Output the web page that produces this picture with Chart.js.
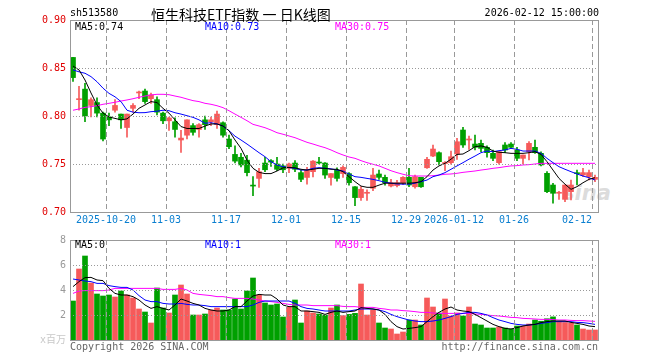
<!DOCTYPE html>
<html>
<head>
<meta charset="utf-8">
<script src="https://cdn.jsdelivr.net/npm/chart.js@4.4.1/dist/chart.umd.min.js"></script>
<style>
body { margin: 0; background: #fff; }
#wrap { position: relative; width: 660px; height: 360px; overflow: hidden; font-family: "DejaVu Sans Mono", monospace; font-size: 10px; }
canvas { position: absolute; left: 0; }
.t { position: absolute; white-space: nowrap; line-height: 12px; }
</style>
</head>
<body>
<div id="wrap">
    <div class="t" style="left:562px;top:181px;font:italic bold 21px 'DejaVu Sans',sans-serif;color:#dcdcdc;">sina</div>
    <canvas id="kline" width="660" height="230" style="top:0"></canvas>
    <canvas id="vol" width="660" height="130" style="top:230px"></canvas>
    <div class="t" style="left:70px;top:7px;">sh513580</div>
    <div class="t" style="left:151px;top:4px;line-height:18px;font:14px 'Noto Sans CJK SC',sans-serif;">恒生科技ETF指数 一 日K线图</div>
    <div class="t" style="right:61px;top:7px;">2026-02-12 15:00:00</div>
    <div class="t" style="left:75px;top:21px;color:#000;">MA5:0.74</div>
    <div class="t" style="left:205px;top:21px;color:#0000ff;">MA10:0.73</div>
    <div class="t" style="left:335px;top:21px;color:#ff00ff;">MA30:0.75</div>
    <div class="t" style="left:75px;top:239px;color:#000;">MA5:0</div>
    <div class="t" style="left:205px;top:239px;color:#0000ff;">MA10:1</div>
    <div class="t" style="left:335px;top:239px;color:#ff00ff;">MA30:1</div>
    <div class="t" style="left:70px;top:341px;color:#666;">Copyright 2026 SINA.COM</div>
    <div class="t" style="right:62px;top:341px;color:#666;">http://finance.sina.com.cn</div>
</div>
<script>
// daily k-line of sh513580, 2025-10-10 .. 2026-02-12 (88 trading days)
const opens = [0.861,0.817,0.828,0.811,0.814,0.803,0.799,0.806,0.802,0.788,
    0.808,0.824,0.826,0.818,0.817,0.803,0.795,0.794,0.775,0.780,
    0.790,0.786,0.796,0.794,0.791,0.793,0.776,0.760,0.757,0.754,
    0.7275,0.735,0.751,0.7535,0.750,0.748,0.7455,0.751,0.741,0.736,
    0.742,0.752,0.751,0.736,0.7437,0.740,0.740,0.7263,0.715,0.7195,
    0.7247,0.7396,0.7361,0.7271,0.7275,0.7305,0.7361,0.7263,0.7361,0.7461,
    0.7583,0.7618,0.7505,0.7514,0.7604,0.7854,0.775,0.7708,0.7715,0.7674,
    0.7611,0.7514,0.7698,0.7708,0.7646,0.7559,0.7628,0.7674,0.7611,0.7403,
    0.7281,0.7195,0.7132,0.7212,0.7403,0.7385,0.7368,0.734];
const closes = [0.840,0.818,0.800,0.817,0.803,0.776,0.796,0.811,0.796,0.802,
    0.811,0.825,0.815,0.822,0.804,0.795,0.798,0.786,0.777,0.796,
    0.783,0.791,0.791,0.796,0.802,0.780,0.768,0.753,0.749,0.741,
    0.727,0.742,0.744,0.752,0.7445,0.744,0.750,0.7445,0.734,0.7437,
    0.753,0.751,0.7385,0.740,0.735,0.7465,0.7305,0.715,0.7237,0.7205,
    0.7385,0.7361,0.7305,0.7305,0.7305,0.7361,0.7281,0.7368,0.7263,0.7549,
    0.7656,0.7524,0.7515,0.7576,0.7732,0.7698,0.776,0.7674,0.7663,0.7618,
    0.7559,0.7628,0.7646,0.7674,0.7559,0.7594,0.7715,0.7618,0.749,0.7212,
    0.7195,0.7201,0.7281,0.7281,0.7399,0.741,0.741,0.7361];
const highs = [0.861,0.831,0.834,0.819,0.819,0.804,0.803,0.817,0.802,0.802,
    0.813,0.826,0.828,0.824,0.820,0.804,0.799,0.798,0.785,0.796,
    0.792,0.792,0.800,0.799,0.805,0.794,0.780,0.769,0.761,0.759,
    0.737,0.7455,0.757,0.7545,0.757,0.750,0.751,0.7535,0.7437,0.7465,
    0.7535,0.757,0.7515,0.740,0.746,0.748,0.741,0.7265,0.7265,0.723,
    0.7455,0.7437,0.7385,0.7341,0.733,0.7368,0.7455,0.7385,0.7361,0.757,
    0.7698,0.7628,0.7524,0.7635,0.7768,0.7882,0.7792,0.7802,0.775,0.7688,
    0.7646,0.7628,0.7722,0.7722,0.7674,0.7594,0.7733,0.775,0.7628,0.742,
    0.7299,0.7215,0.7281,0.7333,0.7437,0.7455,0.7437,0.7385];
const lows = [0.836,0.806,0.794,0.799,0.799,0.774,0.790,0.804,0.787,0.778,
    0.804,0.818,0.813,0.813,0.801,0.792,0.785,0.778,0.762,0.776,
    0.780,0.778,0.786,0.790,0.787,0.778,0.766,0.751,0.747,0.7375,
    0.717,0.7257,0.742,0.7475,0.743,0.741,0.741,0.742,0.7315,0.729,
    0.7365,0.750,0.735,0.728,0.732,0.736,0.728,0.7065,0.712,0.712,
    0.7222,0.734,0.728,0.7262,0.726,0.7285,0.7263,0.7247,0.7257,0.7455,
    0.7576,0.749,0.743,0.7498,0.7549,0.7674,0.7653,0.7646,0.7628,0.757,
    0.7535,0.7497,0.7618,0.766,0.7535,0.75,0.7542,0.7611,0.7479,0.7201,
    0.7091,0.7132,0.7108,0.7125,0.7281,0.7368,0.7333,0.7316];
const ma5 = [0.852,0.848,0.8375,0.824,0.8115,0.803,0.799,0.7975,0.796,0.797,
    0.802,0.808,0.8115,0.815,0.814,0.808,0.803,0.796,0.789,0.787,
    0.787,0.787,0.7895,0.7917,0.7917,0.7896,0.7847,0.775,0.7663,0.754,
    0.7455,0.7413,0.740,0.740,0.7427,0.746,0.7465,0.746,0.7445,0.7437,
    0.7445,0.7455,0.7455,0.7445,0.7445,0.742,0.7368,0.7316,0.727,0.7257,
    0.7257,0.728,0.730,0.730,0.730,0.730,0.730,0.7305,0.7316,0.7368,
    0.7437,0.748,0.7507,0.755,0.760,0.7604,0.7639,0.768,0.7688,0.7674,
    0.7635,0.7622,0.7618,0.7611,0.7611,0.7611,0.7618,0.7628,0.760,0.7524,
    0.7437,0.735,0.729,0.7236,0.7264,0.7305,0.734,0.7357];
const ma10 = [0.848,0.846,0.8445,0.841,0.8357,0.829,0.8236,0.820,0.815,0.806,
    0.804,0.8034,0.8035,0.8045,0.805,0.806,0.8055,0.8034,0.802,0.8003,
    0.7986,0.796,0.7924,0.793,0.7917,0.7896,0.7847,0.779,0.775,0.7708,
    0.7663,0.7618,0.7576,0.7524,0.749,0.7472,0.7462,0.7455,0.7437,0.7437,
    0.7455,0.7462,0.7455,0.745,0.7437,0.7427,0.7396,0.7368,0.7361,0.735,
    0.734,0.7326,0.731,0.730,0.7292,0.729,0.729,0.730,0.7316,0.7333,
    0.7368,0.7385,0.741,0.7445,0.748,0.7514,0.755,0.7583,0.7618,0.7635,
    0.7628,0.7639,0.7646,0.7663,0.7653,0.7635,0.7635,0.7635,0.7611,0.7559,
    0.7514,0.7472,0.7445,0.742,0.7396,0.7375,0.7357,0.7333];
const ma30 = [0.806,0.8073,0.809,0.8097,0.8107,0.8122,0.8132,0.8143,0.8156,0.8167,
    0.818,0.8195,0.8208,0.8219,0.8226,0.8226,0.8222,0.8208,0.8195,0.8177,
    0.816,0.815,0.8132,0.8122,0.8107,0.8087,0.8055,0.802,0.7986,0.7951,
    0.7913,0.7896,0.7878,0.7854,0.7826,0.781,0.7792,0.7774,0.775,0.7726,
    0.7708,0.7688,0.767,0.7646,0.7618,0.7594,0.7573,0.7559,0.7535,0.7514,
    0.7497,0.748,0.7455,0.743,0.741,0.7393,0.7378,0.7375,0.7375,0.7375,
    0.7378,0.7385,0.7393,0.7396,0.7403,0.7413,0.742,0.7427,0.7437,0.7445,
    0.7455,0.7462,0.7472,0.748,0.7483,0.749,0.7493,0.75,0.7507,0.7507,
    0.7507,0.7507,0.7507,0.7507,0.7507,0.7507,0.7507,0.7507];
// volume, millions
const vol = [3.12,5.68,6.72,4.56,3.68,3.52,3.6,3.44,3.92,3.6,
    3.36,2.48,2.24,1.36,4.16,2.56,2.16,3.6,4.4,3.68,
    2.0,2.0,2.08,2.4,2.56,2.4,2.4,3.28,2.48,3.92,
    4.96,3.6,2.96,2.8,2.88,1.84,2.64,3.2,1.36,2.32,
    2.16,2.08,2.0,2.56,2.8,1.95,2.05,2.13,4.48,2.0,
    2.4,1.36,0.96,0.88,0.48,0.64,1.6,1.6,1.2,3.36,
    2.64,2.16,3.28,1.92,2.16,1.92,2.64,1.28,1.2,0.96,
    0.96,1.04,0.96,0.88,1.12,1.12,1.28,1.6,1.5,1.7,
    1.85,1.45,1.4,1.35,1.2,0.88,0.8,0.8];
const vma5 = [4.27,4.67,4.99,5.01,4.8,4.75,4.13,3.73,3.6,3.6,
    3.47,3.2,2.8,2.53,2.67,2.53,2.4,2.8,3.28,3.12,
    2.93,2.8,2.53,2.4,2.32,2.32,2.4,2.67,2.67,3.12,
    3.52,3.65,3.6,3.6,3.28,2.8,2.67,2.67,2.32,2.32,
    2.27,2.21,2.05,2.21,2.32,2.21,2.27,2.32,2.59,2.53,
    2.48,2.4,2.05,1.47,1.07,0.88,0.93,0.99,1.07,1.47,
    1.87,2.21,2.48,2.64,2.4,2.32,2.27,2.05,1.79,1.52,
    1.25,1.07,0.93,0.88,0.99,1.12,1.2,1.25,1.39,1.47,
    1.52,1.52,1.52,1.41,1.33,1.25,1.12,1.07];
const vma10 = [4.88,4.8,4.72,4.67,4.53,4.53,4.35,4.27,4.21,4.21,
    4.0,3.55,3.2,3.07,3.07,2.93,2.88,2.88,2.93,2.85,
    2.8,2.8,2.75,2.67,2.67,2.67,2.67,2.67,2.67,2.67,
    2.8,3.01,3.12,3.12,3.12,3.12,3.12,2.93,2.67,2.53,
    2.48,2.4,2.32,2.32,2.32,2.32,2.32,2.4,2.48,2.48,
    2.48,2.4,2.27,2.05,1.87,1.73,1.6,1.52,1.47,1.47,
    1.52,1.6,1.73,1.87,2.05,2.13,2.21,2.21,2.13,2.0,
    1.79,1.6,1.47,1.33,1.25,1.2,1.2,1.25,1.33,1.39,
    1.47,1.47,1.47,1.47,1.41,1.39,1.33,1.25];
const vma30 = [3.73,3.92,3.95,3.95,3.95,3.95,4.0,4.13,4.13,4.13,
    4.13,4.13,4.13,4.13,4.13,4.05,4.05,4.05,4.13,4.0,
    3.73,3.65,3.6,3.55,3.47,3.47,3.39,3.33,3.33,3.33,
    3.28,3.2,3.12,3.07,3.01,2.93,2.85,2.8,2.8,2.8,
    2.75,2.75,2.75,2.75,2.75,2.69,2.67,2.67,2.61,2.61,
    2.61,2.53,2.48,2.4,2.4,2.35,2.32,2.27,2.21,2.21,
    2.16,2.13,2.13,2.13,2.13,2.13,2.13,2.08,2.05,2.0,
    1.95,1.92,1.87,1.81,1.79,1.73,1.71,1.68,1.65,1.65,
    1.63,1.6,1.6,1.57,1.55,1.55,1.52,1.49];
// date ticks: index of the trading day and its label
const tick_idx = [6, 16, 26, 36, 46, 56, 64, 74, 87];
const tick_text = ['2025-10-20', '11-03', '11-17', '12-01', '12-15', '12-29', '2026-01-12', '01-26', '02-12'];
const price_ticks = [0.70, 0.75, 0.80, 0.85, 0.90];
const vol_ticks = [0, 2, 4, 6, 8];

const RED = '#f65a5a';
const GREEN = '#00a000';
const GRID = '#999999';
const FONT = { family: "'DejaVu Sans Mono', 'Noto Sans CJK SC', monospace", size: 10 };
const n = closes.length;
let colors = closes.map((c, i) => c >= opens[i] ? RED : GREEN);
// last label is pulled left so it stays inside the frame
let label_pos = tick_idx.map(i => i - 0.5);
label_pos[label_pos.length - 1] -= 2.5;

function pts(arr) {
    return arr.map((v, i) => ({ x: i, y: v }));
}
function ma_line(arr, color) {
    return { type: 'line', data: pts(arr), borderColor: color, borderWidth: 1, pointRadius: 0, tension: 0, order: 0 };
}

// dashed date lines, dotted value lines and the frame, placed by the chart's own scales
const framePlugin = {
    id: 'frame',
    afterDatasetsDraw(chart) {
        let a = chart.chartArea, c = chart.ctx;
        let sx = chart.scales.x, sy = chart.scales.y;
        c.save();
        c.strokeStyle = GRID;
        c.lineWidth = 1;
        c.setLineDash([5, 3]);
        sx.ticks.forEach(t => {
            let px = Math.round(sx.getPixelForValue(t.value)) + 0.5;
            c.beginPath(); c.moveTo(px, a.top); c.lineTo(px, a.bottom); c.stroke();
        });
        c.setLineDash([1, 2]);
        sy.ticks.forEach(t => {
            let py = Math.round(sy.getPixelForValue(t.value)) + 0.5;
            c.beginPath(); c.moveTo(a.left, py); c.lineTo(a.right, py); c.stroke();
        });
        c.setLineDash([]);
        c.strokeRect(a.left + 0.5, a.top + 0.5, a.right - a.left, a.bottom - a.top);
        c.restore();
    }
};

function grid_x() {
    return {
        type: 'linear', position: 'top', min: -0.5, max: n - 0.5, offset: false,
        afterBuildTicks: s => { s.ticks = tick_idx.map(i => ({ value: i - 0.5 })); },
        afterFit: s => { s.height = 0; },
        ticks: { display: false },
        grid: { display: false, drawTicks: false, offset: false },
        border: { display: false }
    };
}

new Chart(document.getElementById('kline'), {
    type: 'bar',
    data: {
        datasets: [
            ma_line(ma5, '#000000'),
            ma_line(ma10, '#0000ff'),
            ma_line(ma30, '#ff00ff'),
            {
                data: opens.map((o, i) => ({ x: i, y: [o, closes[i]] })),
                backgroundColor: colors, barThickness: 5, minBarLength: 1, grouped: false, order: 1
            },
            {
                data: lows.map((l, i) => ({ x: i, y: [l, highs[i]] })),
                backgroundColor: colors, barThickness: 1, grouped: false, order: 2
            }
        ]
    },
    options: {
        responsive: false, animation: false,
        layout: { padding: { top: 20, right: 62, left: 0, bottom: 0 } },
        plugins: { legend: { display: false }, tooltip: { enabled: false } },
        scales: {
            x: grid_x(),
            xl: {
                type: 'linear', position: 'bottom', min: -0.5, max: n - 0.5, offset: false,
                afterBuildTicks: s => { s.ticks = label_pos.map(v => ({ value: v })); },
                afterFit: s => { s.height = 18; },
                ticks: { color: '#0a7fd0', font: FONT, padding: 2, maxRotation: 0, autoSkip: false, callback: (v, k) => tick_text[k] },
                grid: { display: false, drawTicks: false, offset: false },
                border: { display: false }
            },
            y: {
                min: 0.70, max: 0.90,
                afterBuildTicks: s => { s.ticks = price_ticks.map(v => ({ value: v })); },
                afterFit: s => { s.width = 70; },
                ticks: { color: '#e00000', font: FONT, padding: 4, callback: v => v.toFixed(2) },
                grid: { display: false, drawTicks: false },
                border: { display: false }
            }
        }
    },
    plugins: [framePlugin]
});

new Chart(document.getElementById('vol'), {
    type: 'bar',
    data: {
        datasets: [
            ma_line(vma5, '#000000'),
            ma_line(vma10, '#0000ff'),
            ma_line(vma30, '#ff00ff'),
            {
                data: pts(vol), backgroundColor: colors, barThickness: 5, grouped: false, order: 1
            }
        ]
    },
    options: {
        responsive: false, animation: false,
        layout: { padding: { top: 10, right: 62, left: 0, bottom: 20 } },
        plugins: { legend: { display: false }, tooltip: { enabled: false } },
        scales: {
            x: grid_x(),
            y: {
                min: 0, max: 8,
                afterBuildTicks: s => { s.ticks = vol_ticks.map(v => ({ value: v })); },
                afterFit: s => { s.width = 70; },
                ticks: {
                    font: FONT, padding: 4,
                    color: c => c.tick.value === 0 ? '#c8c8c8' : '#999',
                    callback: v => v === 0 ? 'x百万' : String(v)
                },
                grid: { display: false, drawTicks: false },
                border: { display: false }
            }
        }
    },
    plugins: [framePlugin]
});
</script>
</body>
</html>
